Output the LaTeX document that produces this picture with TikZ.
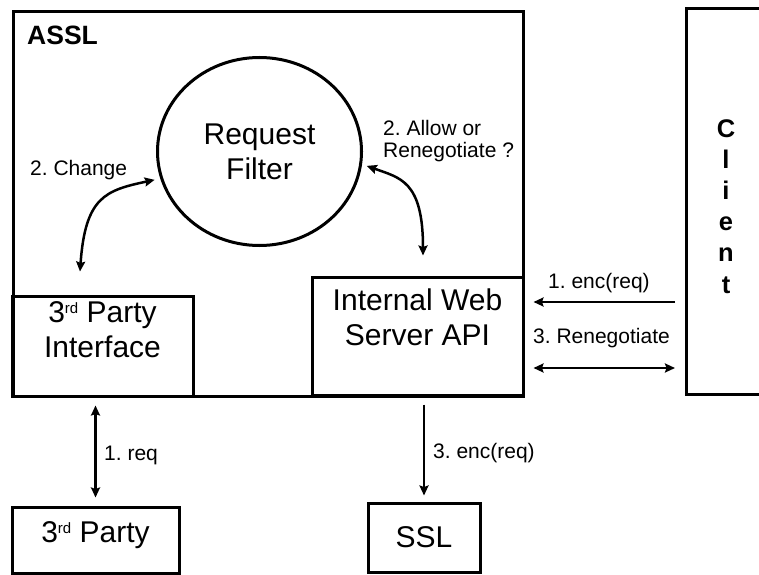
\documentclass[tikz,border=0pt]{standalone}
\usepackage{fontspec}
\setmainfont{Liberation Sans}
\usetikzlibrary{shapes.geometric,arrows.meta}
\newcommand{\ordsup}[1]{\raisebox{0.3em}{\fontsize{15}{15}\selectfont #1}}
\frenchspacing

\begin{document}
\begin{tikzpicture}[x=1pt,y=1pt,
  box/.style={draw,line width=3pt,inner sep=0pt},
  big/.style={font=\fontsize{30}{35}\selectfont,align=center},
  small/.style={font=\fontsize{21}{21.5}\selectfont,align=left,inner sep=0pt},
  >={Stealth[length=10pt,width=9pt,inset=1.5pt]},
  arr/.style={line width=2.5pt,->},
  dbl/.style={line width=2.5pt,<->}]
  \useasboundingbox (0,0) rectangle (759,574);
  \clip (0,0) rectangle (759,574);
  % boxes
  \node[box,minimum width=510,minimum height=384] (assl) at (268,370) {};
  \node[font=\bfseries\fontsize{26.5}{30}\selectfont,anchor=base west,inner sep=0pt] (title) at (27,529) {ASSL};
  \node[box,ellipse,minimum width=204,minimum height=188,big] (filter) at (259.5,422.5) {Request\\Filter};
  \node[box,minimum width=181,minimum height=100] (iface) at (102.5,228) {};
  \node[big,anchor=north,inner sep=0pt] (ifacetxt) at ([yshift=-7]iface.north) {3\ordsup{rd} Party\\Interface};
  \node[box,minimum width=211,minimum height=118] (web) at (417.5,238) {};
  \node[big,anchor=north,inner sep=0pt] (webtxt) at ([yshift=-13]web.north) {Internal Web\\Server API};
  \node[box,minimum width=120,minimum height=386,anchor=south west] (client) at (685,178) {};
  \node[font=\bfseries\fontsize{25.5}{31.2}\selectfont,align=center,anchor=north,inner sep=0pt] (clienttxt) at (726,455) {C\\l\\i\\e\\n\\t};
  \node[box,minimum width=167,minimum height=66] (third) at (95.5,34) {};
  \node[big,anchor=base,inner sep=0pt] (thirdtxt) at ([yshift=-2]third.center) {3\ordsup{rd} Party};
  \node[box,minimum width=112,minimum height=69,big] (ssl) at (424,36.5) {SSL};
  % free ends of the connectors
  \coordinate (chgA) at ([xshift=-22.5,yshift=23]iface.north);
  \coordinate (chgB) at ([xshift=-6]filter.196);
  \coordinate (allowA) at ([xshift=5.5,yshift=20]web.north);
  \coordinate (allowB) at ([xshift=5]filter.352);
  \coordinate (ency) at (0,272);
  \coordinate (reny) at (0,206);
  % connectors
  \draw[dbl] (chgA) to[out=86,in=192,out distance=75pt,in distance=50pt] (chgB);
  \draw[dbl] (allowA) to[out=90,in=340,out distance=75pt,in distance=35pt] (allowB);
  \draw[arr,shorten <=10pt,shorten >=9pt] (client.west |- ency) -- (web.east |- ency);
  \draw[dbl,shorten <=9pt,shorten >=10pt] (web.east |- reny) -- (client.west |- reny);
  \draw[arr,shorten <=8pt,shorten >=6pt] (ssl.north |- web.south) -- (ssl.north);
  \draw[dbl,shorten <=8pt,shorten >=8pt] (third.north |- iface.south) -- (third.north);
  % labels
  \node[small,anchor=base west] (chglbl) at (30,399) {2. Change};
  \node[small,anchor=base west] (allowlbl) at (383,417) {2. Allow or\\Renegotiate ?};
  \node[small,anchor=base west] (enclbl) at (548,286) {1. enc(req)};
  \node[small,anchor=base west] (renlbl) at (533,230.5) {3. Renegotiate};
  \node[small,anchor=base west] (ssllbl) at (433,116) {3. enc(req)};
  \node[small,anchor=base west] (reqlbl) at (104,114) {1. req};
\end{tikzpicture}
\end{document}
